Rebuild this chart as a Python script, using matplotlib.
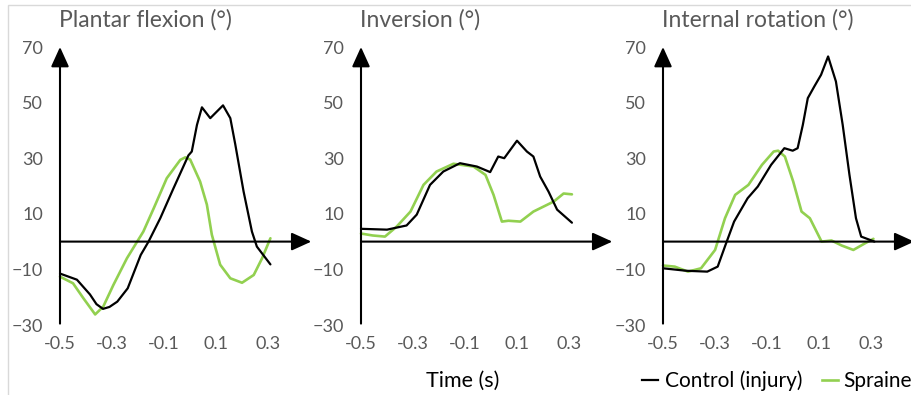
import matplotlib.pyplot as plt
from matplotlib.patches import Rectangle

# Data: time (s) and angle (deg) for each panel
titles = ['Plantar flexion (°)', 'Inversion (°)', 'Internal rotation (°)']
tick_x = [-0.5, -0.3, -0.1, 0.1, 0.3]
tick_y = [-30, -10, 10, 30, 50, 70]

pf_ctrl_t = [-0.5, -0.435, -0.385, -0.36, -0.335, -0.31, -0.28, -0.24, -0.19, -0.16, -0.115, -0.065,
             -0.007, 0.006, 0.026, 0.045, 0.077, 0.126, 0.154, 0.173, 0.205, 0.237, 0.256, 0.308]
pf_ctrl_v = [-11.5, -13.7, -19, -22.5, -24.2, -23.5, -21.6, -16.8, -4.8, 0, 8.4, 19,
             31, 32.4, 42, 48.3, 44.4, 49, 44.4, 35, 18, 3.6, -1.8, -8.2]
pf_spr_t = [-0.5, -0.45, -0.41, -0.365, -0.334, -0.295, -0.243, -0.18, -0.14, -0.09, -0.038, -0.019,
            0.0, 0.038, 0.064, 0.083, 0.115, 0.154, 0.199, 0.244, 0.276, 0.308]
pf_spr_v = [-12.6, -15, -20.4, -26.2, -23.4, -15.6, -6, 3.6, 12, 22.8, 29.4, 30.3,
            29.5, 21.6, 13.3, 2.5, -8.3, -13.2, -14.8, -12, -6, 1.2]

inv_ctrl_t = [-0.5, -0.4, -0.325, -0.286, -0.235, -0.184, -0.12, -0.055, -0.004, 0.027, 0.05, 0.099,
              0.137, 0.162, 0.188, 0.22, 0.253, 0.31]
inv_ctrl_v = [4.6, 4.3, 5.8, 9.7, 20.4, 25.2, 28.2, 27, 25, 30.6, 30, 36.3,
              32.4, 30.6, 23.4, 18, 11.5, 6.8]
inv_spr_t = [-0.5, -0.455, -0.408, -0.363, -0.31, -0.26, -0.21, -0.145, -0.068, -0.022, 0.009, 0.041,
             0.066, 0.112, 0.162, 0.24, 0.278, 0.31]
inv_spr_v = [2.9, 2.2, 1.8, 5.4, 10.8, 20.4, 25.2, 28, 27, 24, 16.8, 7.2,
             7.5, 7.2, 10.8, 14.4, 17.3, 17]

ir_ctrl_t = [-0.5, -0.41, -0.33, -0.29, -0.26, -0.227, -0.175, -0.136, -0.085, -0.034, -0.002, 0.017,
             0.037, 0.056, 0.081, 0.107, 0.134, 0.164, 0.19, 0.216, 0.241, 0.261, 0.312]
ir_ctrl_v = [-9.6, -10.5, -10.8, -9, -1.2, 7.2, 15.6, 19.8, 27.6, 33.6, 32.7, 33.6,
             42, 51.6, 55.8, 60, 66.6, 57.6, 42, 24, 8.4, 1.8, 0]
ir_spr_t = [-0.5, -0.455, -0.404, -0.354, -0.3, -0.262, -0.223, -0.172, -0.12, -0.075, -0.058, -0.032,
            0.0, 0.032, 0.064, 0.109, 0.147, 0.186, 0.231, 0.276, 0.308]
ir_spr_v = [-8.6, -9, -10.8, -9.6, -3, 8.4, 16.8, 20.4, 27.6, 32.4, 32.7, 30.6,
            21.6, 10.8, 8.4, 0, 0.4, -1.4, -3, -0.6, 1]

panels = [(pf_ctrl_t, pf_ctrl_v, pf_spr_t, pf_spr_v),
          (inv_ctrl_t, inv_ctrl_v, inv_spr_t, inv_spr_v),
          (ir_ctrl_t, ir_ctrl_v, ir_spr_t, ir_spr_v)]

plt.rcParams['font.family'] = ['Lato', 'DejaVu Sans']
W, H = 912, 395
fig = plt.figure(figsize=(9.12, 3.95), dpi=100)

# light grey chart frame (cropped on right and bottom)
fig.patches.append(Rectangle((8 / W, -0.1), 1.2, (H - 5) / H + 0.1, transform=fig.transFigure,
                             fill=False, edgecolor='#d9d9d9', lw=1))

green = '#92d050'
grey = '#595959'
lefts = [60, 361, 663]
for i, (ct, cv, st, sv) in enumerate(panels):
    ax = fig.add_axes([lefts[i] / W, 70 / H, 250 / W, 278 / H])
    ax.set_xlim(-0.5, 0.46)
    ax.set_ylim(-30, 70)
    for s in ax.spines.values():
        s.set_visible(False)
    ax.patch.set_visible(False)
    ax.set_xticks(tick_x)
    ax.set_xticklabels([str(x) for x in tick_x])
    ax.set_yticks(tick_y)
    ax.tick_params(length=0, labelsize=13, colors=grey, pad=8)
    ax.tick_params(axis='y', pad=12)

    # axes with arrows
    ax.annotate('', xy=(0.465, 0), xytext=(-0.5, 0), annotation_clip=False,
                arrowprops=dict(arrowstyle='-|>,head_length=0.55,head_width=0.25', lw=1.5,
                                color='black', shrinkA=0, shrinkB=0, mutation_scale=22))
    ax.annotate('', xy=(-0.5, 70), xytext=(-0.5, -29.5), annotation_clip=False,
                arrowprops=dict(arrowstyle='-|>,head_length=0.55,head_width=0.25', lw=1.5,
                                color='black', shrinkA=0, shrinkB=0, mutation_scale=22))

    ax.plot(st, sv, color=green, lw=1.9, solid_capstyle='round', solid_joinstyle='round', clip_on=False)
    ax.plot(ct, cv, color='black', lw=1.6, solid_capstyle='round', solid_joinstyle='round', clip_on=False)

    fig.text((lefts[i] - 1) / W, 1 - 20 / H, titles[i], fontsize=16.5, color=grey,
             ha='left', va='center')

fig.text(463 / W, 1 - 381 / H, 'Time (s)', fontsize=15.5, color='black', ha='center', va='center')

# legend drawn by hand at the bottom right (text runs off the right edge)
fig.add_artist(plt.Line2D([642 / W, 658 / W], [1 - 380 / H] * 2, color='black', lw=1.6))
fig.text(665 / W, 1 - 381 / H, 'Control (injury)', fontsize=15, color='black', ha='left', va='center')
fig.add_artist(plt.Line2D([822 / W, 838 / W], [1 - 380 / H] * 2, color=green, lw=1.9))
fig.text(843 / W, 1 - 381 / H, 'Sprained', fontsize=15, color='black', ha='left', va='center')

fig.savefig('out.png', dpi=100)
